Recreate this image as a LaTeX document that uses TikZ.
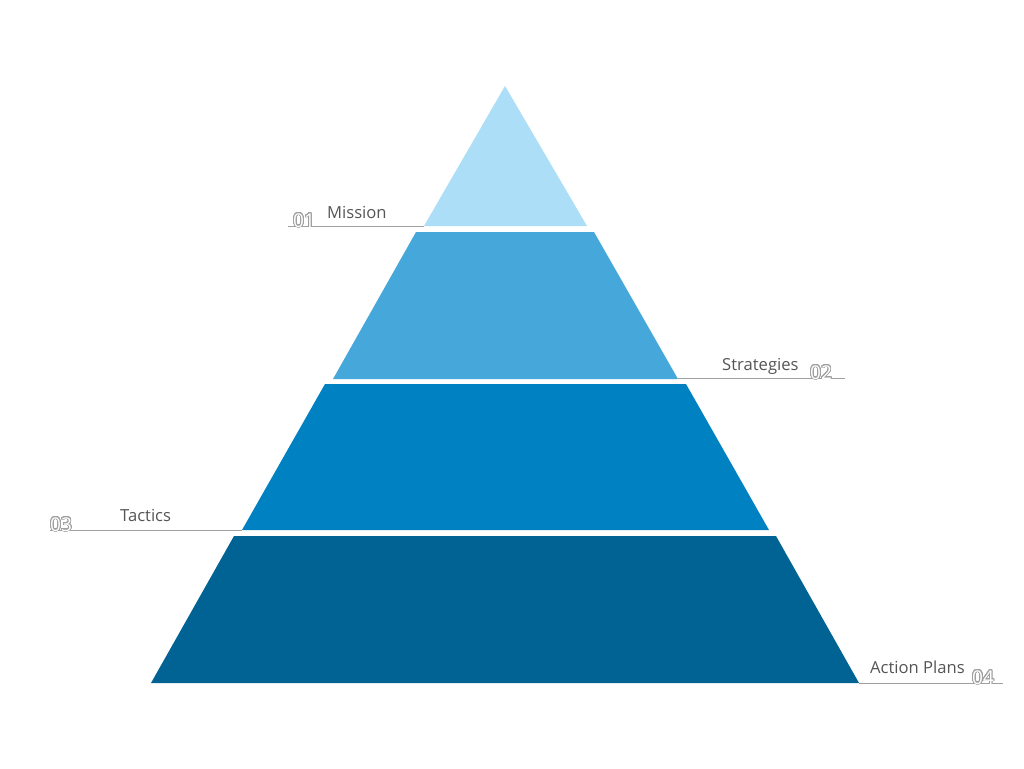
\documentclass[tikz,border=0pt]{standalone}
\usepackage{fontspec}
\setmainfont{Open Sans}
\usepackage[copies]{contour}
\usetikzlibrary{positioning}

\definecolor{tierA}{HTML}{ACDEF7}
\definecolor{tierB}{HTML}{46A8DA}
\definecolor{tierC}{HTML}{0081C1}
\definecolor{tierD}{HTML}{006394}
\definecolor{labelgray}{HTML}{555555}
\definecolor{linegray}{HTML}{A0A0A0}

\contourlength{0.8pt}
\contournumber{32}

\tikzset{
  lbl/.style={text=labelgray, font=\fontsize{16.6}{18}\selectfont, inner sep=0pt, anchor=base west},
  num/.style={font=\fontsize{19}{20}\selectfont, inner sep=0pt, anchor=base west},
  lead/.style={draw=linegray, line width=1pt}
}
\newcommand{\outnum}[1]{\contour{linegray}{\textcolor{white}{#1}}}

\begin{document}
\begin{tikzpicture}[x=1pt,y=-1pt]
    \useasboundingbox (0,0) rectangle (1024,768);
    \fill[white] (0,0) rectangle (1024,768);
    % pyramid tiers
    \fill[tierA] (505,86)--(587,226)--(424,226)--cycle;
    \fill[tierB] (416,232)--(594,232)--(678,379)--(333,379)--cycle;
    \fill[tierC] (325,384)--(686,384)--(769,530)--(242,530)--cycle;
    \fill[tierD] (234,536)--(776,536)--(859,683)--(151,683)--cycle;
    % corners where the leaders meet the pyramid
    \coordinate (m1) at (424,226);
    \coordinate (m2) at (678,378.5);
    \coordinate (m3) at (242,530);
    \coordinate (m4) at (859,683);
    \coordinate (e1) at (288,226);
    \coordinate (e2) at (845,378.5);
    \coordinate (e3) at (50,530);
    \coordinate (e4) at (1003,683);
    % leaders
    \foreach \i in {1,2,3,4}
    \draw[lead] (e\i)--(m\i);
    % labels
    \node[lbl] (mission) at (327,218) {Mission};
    \node[lbl] (strategies) at (722,370) {Strategies};
    \node[lbl] (tactics) at (120,521) {Tactics};
    \node[lbl] (actions) at (870,673) {Action Plans};
    \node[num] (n1) at (293,227) {\outnum{01}};
    \node[num] (n2) at (810,379) {\outnum{02}};
    \node[num] (n3) at (50,531) {\outnum{03}};
    \node[num] (n4) at (972,684) {\outnum{04}};
  \end{tikzpicture}
\end{document}
